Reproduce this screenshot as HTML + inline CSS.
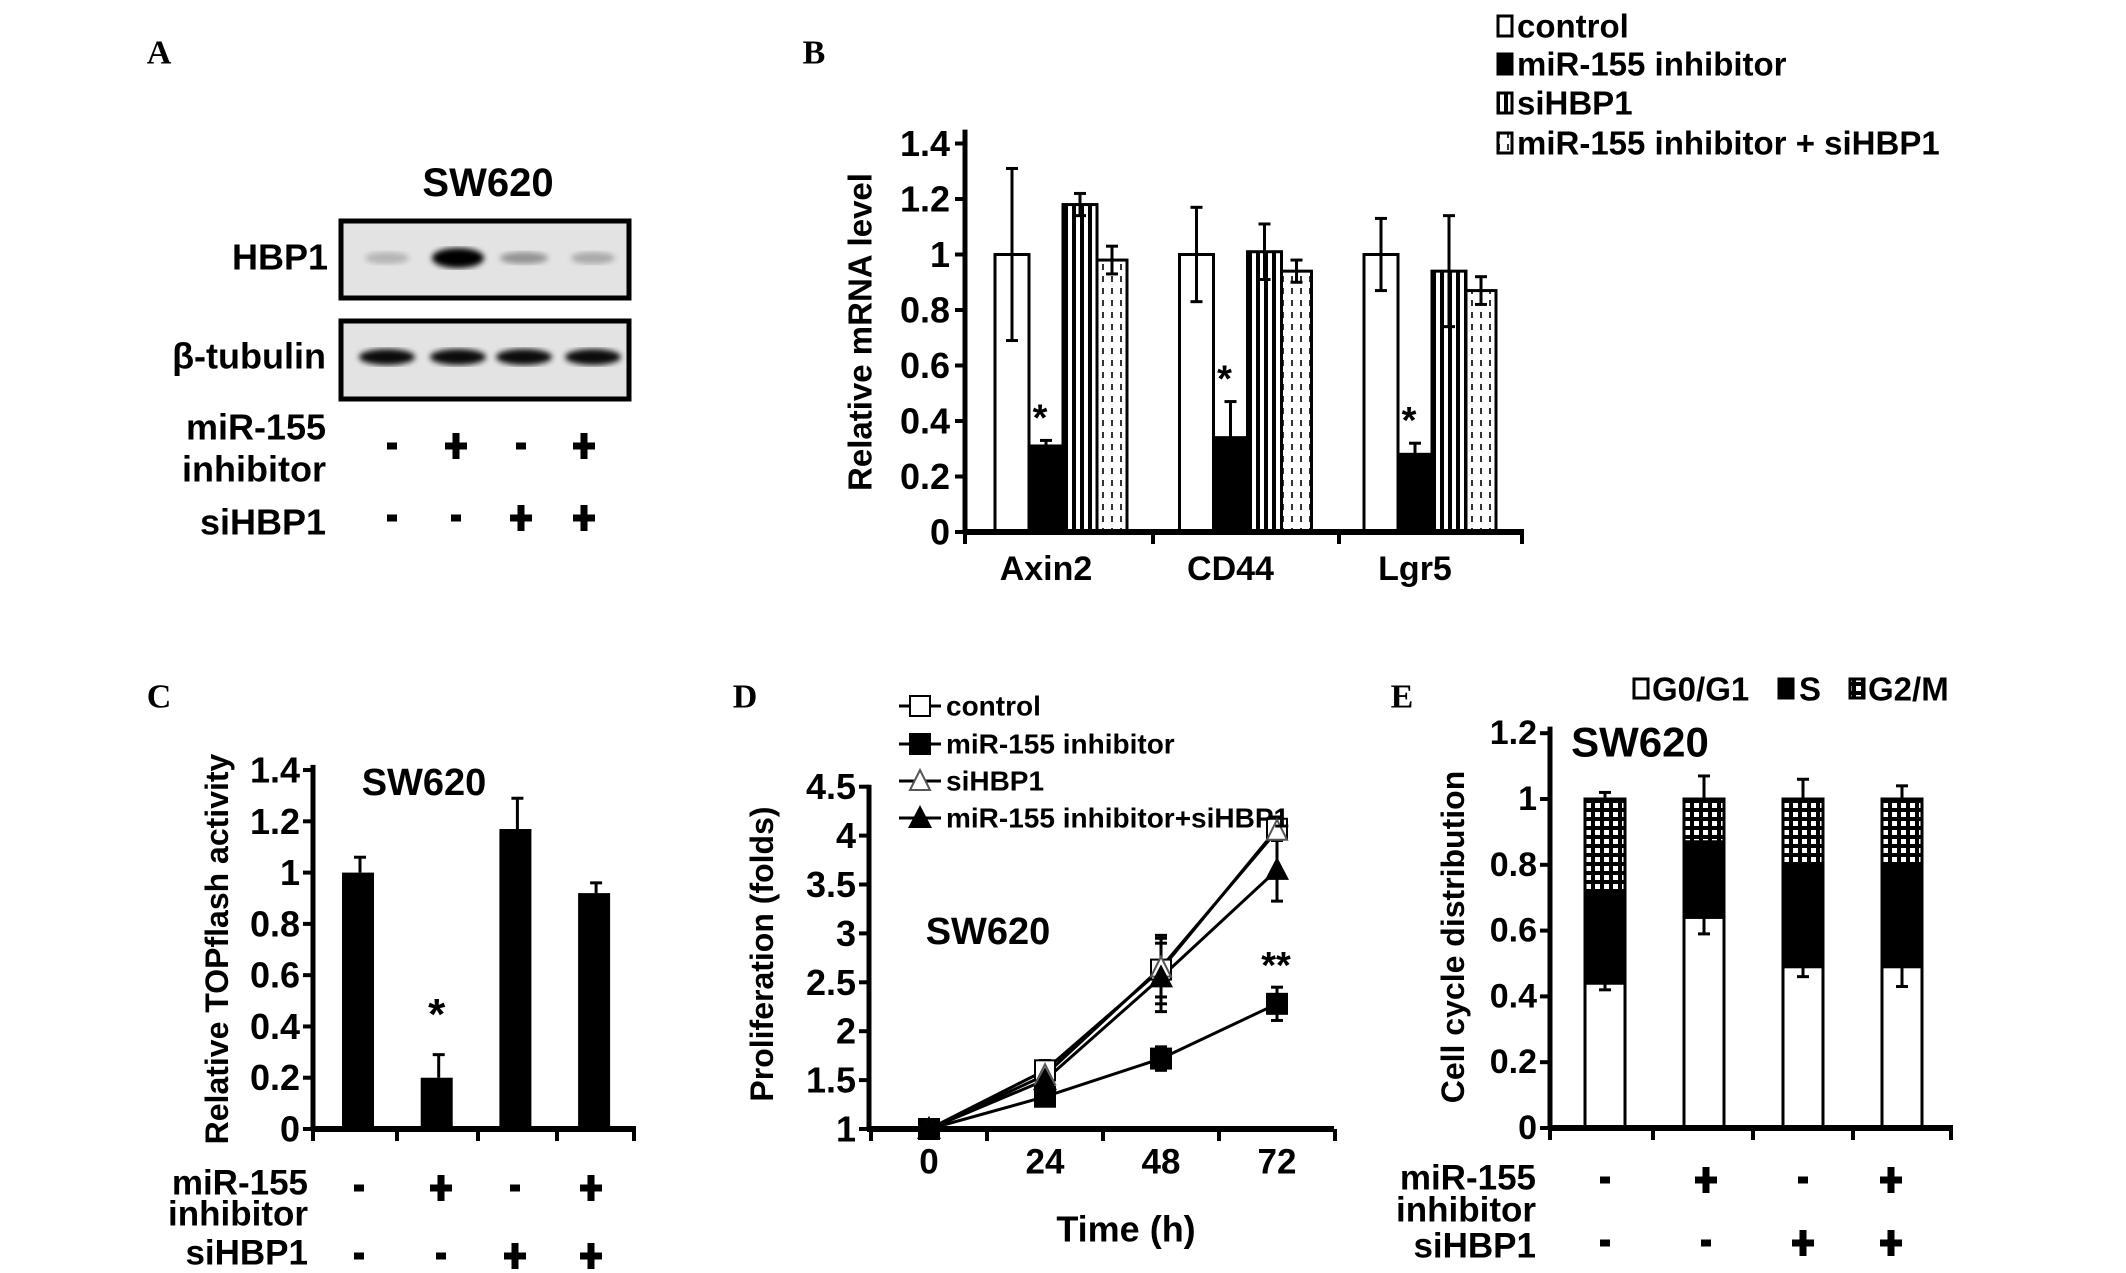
<!DOCTYPE html>
<html><head><meta charset="utf-8"><style>
html,body{margin:0;padding:0;background:#fff}
svg{display:block}
text{font-family:"Liberation Sans Narrow","Liberation Sans",sans-serif;font-weight:bold;fill:#000}
.w{font-family:"Liberation Sans",sans-serif}
.serif{font-family:"Liberation Serif",serif}
</style></head><body>
<svg id="fig" width="2126" height="1273" viewBox="0 0 2126 1273" xmlns="http://www.w3.org/2000/svg">
<defs>
<pattern id="stripes" width="8" height="10" patternUnits="userSpaceOnUse"><rect width="8" height="10" fill="#fff"/><rect width="4" height="10" fill="#000"/></pattern>
<pattern id="dots" width="9" height="12" patternUnits="userSpaceOnUse"><rect width="9" height="12" fill="#fff"/><rect x="4" width="2" height="6" fill="#333"/></pattern>
<pattern id="grid" width="9" height="9" patternUnits="userSpaceOnUse"><rect width="9" height="9" fill="#000"/><rect x="2" y="2" width="5" height="5" fill="#fff"/></pattern>
<filter id="blur"><feGaussianBlur stdDeviation="3"/></filter>
</defs>
<g id="root"></g>
</svg>
<script>
// Panel B data
const bCats = ['Axin2', 'CD44', 'Lgr5'];
const bControl = [1, 1, 1];
const bInhib = [0.31, 0.34, 0.28];
const bSi = [1.18, 1.01, 0.94];
const bCombo = [0.98, 0.94, 0.87];
const bControlErr = [0.31, 0.17, 0.13];
const bInhibErr = [0.02, 0.13, 0.04];
const bSiErr = [0.04, 0.1, 0.2];
const bComboErr = [0.05, 0.04, 0.05];
const bTicks = ['0', '0.2', '0.4', '0.6', '0.8', '1', '1.2', '1.4'];
// Panel C data
const cVals = [1, 0.2, 1.17, 0.92];
const cErr = [0.06, 0.09, 0.12, 0.04];
const cTicks = ['0', '0.2', '0.4', '0.6', '0.8', '1', '1.2', '1.4'];
// Panel D data
const dTimes = [0, 24, 48, 72];
const dControl = [1, 1.6, 2.63, 4.07];
const dInhib = [1, 1.33, 1.72, 2.28];
const dSi = [1, 1.55, 2.65, 4.05];
const dCombo = [1, 1.5, 2.55, 3.65];
const dControlErr = [0.05, 0.1, 0.35, 0.12];
const dInhibErr = [0.05, 0.05, 0.12, 0.17];
const dSiErr = [0.05, 0.08, 0.3, 0.1];
const dComboErr = [0.03, 0.05, 0.35, 0.32];
const dTicks = ['1', '1.5', '2', '2.5', '3', '3.5', '4', '4.5'];
// Panel E data
const eG0 = [0.44, 0.64, 0.49, 0.49];
const eS = [0.27, 0.23, 0.31, 0.31];
const eG2 = [0.29, 0.13, 0.20, 0.20];
const eG0Err = [0.02, 0.05, 0.03, 0.06];
const eTopErr = [0.02, 0.07, 0.06, 0.04];
const eTicks = ['0', '0.2', '0.4', '0.6', '0.8', '1', '1.2'];
const signsInhib = ['-', '+', '-', '+'];
const signsSi = ['-', '-', '+', '+'];

const NS = 'http://www.w3.org/2000/svg';
const root = document.getElementById('root');
function mk(tag, attrs, name) {
  const el = document.createElementNS(NS, tag);
  for (const k in attrs) el.setAttribute(k, attrs[k]);
  
  
  root.appendChild(el);
  return el;
}
function txt(x, y, s, size, anchor, name, cls) {
  const el = mk('text', {x: x, y: y, 'font-size': size, 'text-anchor': anchor || 'start', 'dominant-baseline': 'central'}, name);
  if (cls) el.setAttribute('class', cls);
  el.textContent = s;
  return el;
}
function ln(x1, y1, x2, y2, w, name, color) {
  return mk('line', {x1: x1, y1: y1, x2: x2, y2: y2, stroke: color || '#000', 'stroke-width': w}, name);
}
function rc(x, y, w, h, fill, name, sw) {
  return mk('rect', {x: x, y: y, width: w, height: h, fill: fill, stroke: '#000', 'stroke-width': sw === undefined ? 3 : sw}, name);
}
function err(x, y1, y2, name) {
  ln(x, y1, x, y2, 3, name);
  ln(x - 6, y2, x + 6, y2, 3, name + '-cap');
}
function sign(x, y, s, name) {
  if (s === '+') {
    ln(x - 11, y, x + 11, y, 7, name);
    ln(x, y - 13, x, y + 13, 7, name);
  } else {
    ln(x - 5, y, x + 5, y, 7, name);
  }
}

// Panel labels
txt(159, 53, 'A', 34, 'middle', 'panel-label-a', 'serif');
txt(814, 53, 'B', 34, 'middle', 'panel-label-b', 'serif');
txt(159, 697, 'C', 34, 'middle', 'panel-label-c', 'serif');
txt(745, 697, 'D', 34, 'middle', 'panel-label-d', 'serif');
txt(1402, 697, 'E', 34, 'middle', 'panel-label-e', 'serif');

// ===== Panel A: western blot
txt(488, 183, 'SW620', 40, 'middle', 'blot-title');
rc(341, 221, 288, 77, '#e3e3e3', 'hbp1-blot-box', 5);
rc(341, 321, 288, 78, '#e3e3e3', 'tubulin-blot-box', 5);
txt(328, 257, 'HBP1', 36, 'end', 'hbp1-label');
txt(326, 356, 'β-tubulin', 36, 'end', 'tubulin-label');
const hbpInt = [0.2, 1, 0.35, 0.25];
const hbpW = [36, 44, 40, 36];
const laneX = [387, 458, 524, 593];
for (let i = 0; i < 4; i++) {
  const e = mk('ellipse', {cx: laneX[i], cy: 258, rx: hbpW[i] / 2 + 4, ry: hbpInt[i] > 0.5 ? 10 : 6, fill: '#000', opacity: hbpInt[i], filter: 'url(#blur)'}, 'hbp1-band');
  const t = mk('ellipse', {cx: laneX[i], cy: 357, rx: 28, ry: 8, fill: '#000', opacity: 0.95, filter: 'url(#blur)'}, 'tubulin-band');
}
txt(326, 427, 'miR-155', 36, 'end', 'blot-mir155-label');
txt(326, 469, 'inhibitor', 36, 'end', 'blot-inhibitor-label');
txt(326, 522, 'siHBP1', 36, 'end', 'blot-sihbp1-label');
const aSignX = [392, 456, 521, 584];
for (let i = 0; i < 4; i++) {
  sign(aSignX[i], 446, signsInhib[i], 'blot-inhibitor-sign');
  sign(aSignX[i], 518, signsSi[i], 'blot-sihbp1-sign');
}

// ===== Panel B
const yB = v => 532 - v * 277.5;
const xB = (g, i) => 995 + g * 184.5 + i * 34;
const bSeries = [bControl, bInhib, bSi, bCombo];
const bErrs = [bControlErr, bInhibErr, bSiErr, bComboErr];
const bFills = ['#fff', '#000', 'url(#stripes)', 'url(#dots)'];
const bNames = ['bar-control', 'bar-mir155-inhibitor', 'bar-sihbp1', 'bar-combo'];
for (let g = 0; g < bCats.length; g++) {
  for (let i = 0; i < 4; i++) {
    const v = bSeries[i][g];
    const x = xB(g, i);
    const w = i === 3 ? 30 : 34;
    rc(x, yB(v), w, yB(0) - yB(v), bFills[i], bNames[i] + '-' + bCats[g].toLowerCase(), 3);
    const e = bErrs[i][g];
    err(x + w / 2, yB(v), yB(v + e), 'errorbar-' + bNames[i]);
    if (i !== 1) err(x + w / 2, yB(v), yB(v - e), 'errorbar-down-' + bNames[i]);
  }
  const ix = xB(g, 1) + 17;
  txt(ix - 6, yB(bInhib[g] + bInhibErr[g]) - 22, '*', 38, 'middle', 'significance-star-b');
  txt(xB(g, 1) + 17, 569, bCats[g], 34, 'middle', 'x-label-' + bCats[g].toLowerCase());
}
ln(965, yB(1.45), 965, yB(0) + 2, 5, 'y-axis-b');
ln(963, yB(0), 1524, yB(0), 6, 'x-axis-b');
for (let i = 0; i < bTicks.length; i++) {
  const v = parseFloat(bTicks[i]);
  ln(955, yB(v), 965, yB(v), 4, 'y-tick-b');
  txt(950, yB(v), bTicks[i], 36, 'end', 'y-tick-label-b');
}
const bXt = [965, 1153, 1339, 1522];
for (let i = 0; i < bXt.length; i++) ln(bXt[i], yB(0), bXt[i], yB(0) + 12, 4, 'x-tick-b');
const bt = txt(860, 332, 'Relative mRNA level', 33, 'middle', 'y-axis-title-b', 'w');
bt.setAttribute('transform', 'rotate(-90 860 332)');
const legB = ['control', 'miR-155 inhibitor', 'siHBP1', 'miR-155 inhibitor + siHBP1'];
const legBY = [26, 64, 103, 143];
for (let i = 0; i < 4; i++) {
  rc(1498, legBY[i] - 10, 14, 20, bFills[i], 'legend-swatch-b', 3);
  txt(1517, legBY[i], legB[i], 33, 'start', 'legend-entry-b');
}

// ===== Panel C
const yC = v => 1129 - v * 256.4;
const xC = i => 358 + i * 78.7;
for (let i = 0; i < cVals.length; i++) {
  rc(xC(i) - 16, yC(cVals[i]), 32, yC(0) - yC(cVals[i]), '#000', 'bar-c-' + i, 0);
  err(xC(i) + 2, yC(cVals[i]), yC(cVals[i] + cErr[i]), 'errorbar-c');
}
txt(xC(1), yC(cVals[1] + cErr[1]) - 40, '*', 44, 'middle', 'significance-star-c');
ln(313, yC(1.42), 313, yC(0) + 2, 5, 'y-axis-c');
ln(311, yC(0), 636, yC(0), 6, 'x-axis-c');
for (let i = 0; i < cTicks.length; i++) {
  const v = parseFloat(cTicks[i]);
  ln(303, yC(v), 313, yC(v), 4, 'y-tick-c');
  txt(300, yC(v), cTicks[i], 36, 'end', 'y-tick-label-c');
}
const cXt = [313, 397, 478, 557, 634];
for (let i = 0; i < cXt.length; i++) ln(cXt[i], yC(0), cXt[i], yC(0) + 12, 4, 'x-tick-c');
txt(424, 783, 'SW620', 38, 'middle', 'chart-title-c', 'w');
const ct = txt(217, 949, 'Relative TOPflash activity', 32, 'middle', 'y-axis-title-c', 'w');
ct.setAttribute('transform', 'rotate(-90 217 949)');
txt(308, 1183, 'miR-155', 35, 'end', 'c-mir155-label');
txt(308, 1214, 'inhibitor', 35, 'end', 'c-inhibitor-label');
txt(308, 1253, 'siHBP1', 35, 'end', 'c-sihbp1-label');
const cSignX = [359, 441, 515, 591];
for (let i = 0; i < 4; i++) {
  sign(cSignX[i], 1188, signsInhib[i], 'c-inhibitor-sign');
  sign(cSignX[i], 1256, signsSi[i], 'c-sihbp1-sign');
}

// ===== Panel D
const yD = v => 1129 - (v - 1) * 97.8;
const xD = t => 929 + t * 348 / 72;
const dSeries = [dControl, dInhib, dSi, dCombo];
const dErrs = [dControlErr, dInhibErr, dSiErr, dComboErr];
const dNames = ['control', 'mir155-inhibitor', 'sihbp1', 'combo'];
function marker(k, x, y, name) {
  if (k === 0) rc(x - 10, y - 10, 20, 20, '#fff', name, 2);
  else if (k === 1) rc(x - 11, y - 11, 22, 22, '#000', name, 0);
  else if (k === 2) mk('polygon', {points: (x - 10) + ',' + (y + 9) + ' ' + (x + 10) + ',' + (y + 9) + ' ' + x + ',' + (y - 11), fill: '#fff', stroke: '#555', 'stroke-width': 2}, name);
  else mk('polygon', {points: (x - 12) + ',' + (y + 10) + ' ' + (x + 12) + ',' + (y + 10) + ' ' + x + ',' + (y - 13), fill: '#000'}, name);
}
for (let k = 0; k < 4; k++) {
  const s = dSeries[k];
  let pts = '';
  for (let j = 0; j < dTimes.length; j++) pts += xD(dTimes[j]) + ',' + yD(s[j]) + ' ';
  mk('polyline', {points: pts, fill: 'none', stroke: '#000', 'stroke-width': 3}, 'line-' + dNames[k]);
  for (let j = 0; j < dTimes.length; j++) {
    const x = xD(dTimes[j]);
    ln(x, yD(s[j] - dErrs[k][j]), x, yD(s[j] + dErrs[k][j]), 3, 'errorbar-d');
    ln(x - 6, yD(s[j] + dErrs[k][j]), x + 6, yD(s[j] + dErrs[k][j]), 3, 'errorbar-cap-d');
    ln(x - 6, yD(s[j] - dErrs[k][j]), x + 6, yD(s[j] - dErrs[k][j]), 3, 'errorbar-cap-d');
  }
}
for (let k = 0; k < 4; k++) {
  for (let j = 0; j < dTimes.length; j++) marker(k, xD(dTimes[j]), yD(dSeries[k][j]), 'point-' + dNames[k]);
}
ln(869, yD(4.52), 869, yD(1) + 2, 5, 'y-axis-d');
ln(867, yD(1), 1334, yD(1), 6, 'x-axis-d');
for (let i = 0; i < dTicks.length; i++) {
  const v = parseFloat(dTicks[i]);
  ln(859, yD(v), 869, yD(v), 4, 'y-tick-d');
  txt(856, yD(v), dTicks[i], 36, 'end', 'y-tick-label-d');
}
const dXt = [-12, 12, 36, 60, 84];
for (let i = 0; i < dXt.length; i++) ln(xD(dXt[i]), yD(1), xD(dXt[i]), yD(1) + 12, 4, 'x-tick-d');
for (let j = 0; j < dTimes.length; j++) txt(xD(dTimes[j]), 1162, String(dTimes[j]), 35, 'middle', 'x-tick-label-d');
txt(1126, 1229, 'Time (h)', 36, 'middle', 'x-axis-title-d');
const dt = txt(762, 954, 'Proliferation (folds)', 32, 'middle', 'y-axis-title-d', 'w');
dt.setAttribute('transform', 'rotate(-90 762 954)');
txt(988, 932, 'SW620', 38, 'middle', 'chart-title-d', 'w');
txt(1276, 966, '**', 38, 'middle', 'significance-star-d');
const legD = ['control', 'miR-155 inhibitor', 'siHBP1', 'miR-155 inhibitor+siHBP1'];
const legDY = [706, 744, 781, 818];
for (let k = 0; k < 4; k++) {
  ln(899, legDY[k], 941, legDY[k], 3, 'legend-line-d');
  marker(k, 920, legDY[k], 'legend-marker-d');
  txt(946, legDY[k], legD[k], 28, 'start', 'legend-entry-d');
}

// ===== Panel E
const yE = v => 1128 - v * 329;
const xE = i => 1605 + i * 99;
for (let i = 0; i < eG0.length; i++) {
  const x = xE(i) - 20;
  rc(x, yE(eG0[i] + eS[i] + eG2[i]), 40, yE(0) - yE(eG0[i] + eS[i] + eG2[i]), 'url(#grid)', 'bar-g2m-' + i, 3);
  rc(x, yE(eG0[i] + eS[i]), 40, yE(eG0[i]) - yE(eG0[i] + eS[i]), '#000', 'bar-s-' + i, 3);
  rc(x, yE(eG0[i]), 40, yE(0) - yE(eG0[i]), '#fff', 'bar-g0g1-' + i, 3);
  const top = eG0[i] + eS[i] + eG2[i];
  err(xE(i), yE(top), yE(top + eTopErr[i]), 'errorbar-e-top');
  err(xE(i), yE(eG0[i]), yE(eG0[i] - eG0Err[i]), 'errorbar-e-g0');
}
ln(1550, yE(1.22), 1550, yE(0) + 2, 5, 'y-axis-e');
ln(1548, yE(0), 1953, yE(0), 6, 'x-axis-e');
for (let i = 0; i < eTicks.length; i++) {
  const v = parseFloat(eTicks[i]);
  ln(1540, yE(v), 1550, yE(v), 4, 'y-tick-e');
  txt(1537, yE(v), eTicks[i], 34, 'end', 'y-tick-label-e');
}
const eXt = [1550, 1653, 1753, 1853, 1951];
for (let i = 0; i < eXt.length; i++) ln(eXt[i], yE(0), eXt[i], yE(0) + 12, 4, 'x-tick-e');
txt(1640, 742, 'SW620', 42, 'middle', 'chart-title-e', 'w');
const et = txt(1453, 937, 'Cell cycle distribution', 32, 'middle', 'y-axis-title-e', 'w');
et.setAttribute('transform', 'rotate(-90 1453 937)');
rc(1634, 679, 14, 19, '#fff', 'legend-swatch-g0g1', 3);
txt(1652, 689, 'G0/G1', 33, 'start', 'legend-entry-g0g1');
rc(1779, 679, 14, 19, '#000', 'legend-swatch-s', 3);
txt(1799, 689, 'S', 33, 'start', 'legend-entry-s');
rc(1850, 679, 14, 19, 'url(#grid)', 'legend-swatch-g2m', 3);
txt(1868, 689, 'G2/M', 33, 'start', 'legend-entry-g2m');
txt(1536, 1178, 'miR-155', 35, 'end', 'e-mir155-label');
txt(1536, 1210, 'inhibitor', 35, 'end', 'e-inhibitor-label');
txt(1536, 1246, 'siHBP1', 35, 'end', 'e-sihbp1-label');
const eSignX = [1605, 1706, 1803, 1891];
for (let i = 0; i < 4; i++) {
  sign(eSignX[i], 1180, signsInhib[i], 'e-inhibitor-sign');
  sign(eSignX[i], 1243, signsSi[i], 'e-sihbp1-sign');
}
</script>
</body></html>
